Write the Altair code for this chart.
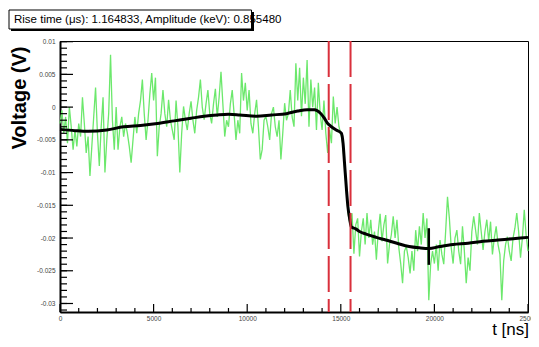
import altair as alt
import pandas as pd
import numpy as np

# ---------------- data ----------------
title_text = ["Rise time (\u03bcs): 1.164833, Amplitude (keV): 0.855480"]

# green raw trace, sampled every 100 ns from 0 to 25000 ns, values in mV
green_t = list(range(0, 25001, 100))
green_mV = [
    -2.5, -0.5, -4.0, -1.5, -5.5, 0.0, -3.0, -6.5, -3.5, -6.0,
    -2.5, -4.5, 1.5, -2.5, -7.0, -4.5, -10.5, -6.0, -1.5, 3.0,
    -4.0, -9.0, -3.0, 1.5, -10.0, -5.0, -1.0, 8.0, -2.0, -6.5,
    0.0, -6.5, -3.0, -1.5, -4.5, -2.5, -4.0, -6.0, -8.5, -5.0,
    -1.5, -4.0, -1.0, 1.0, 4.2, -1.0, -5.0, -2.0, 2.0, 5.2,
    1.0, 4.5, -7.5, -3.0, -1.0, 2.6, -1.0, -3.0, 1.1, -2.0,
    -3.5, -5.0, 1.0, -3.0, -10.0, -4.0, 0.1, -2.0, -3.5, -1.0,
    0.9, -2.0, -4.0, -0.5, 1.5, 4.2, 0.0, -1.9, 0.5, 2.6,
    -1.0, -2.5, 0.5, 2.8, -1.5, 1.5, 5.4, 0.5, -4.5, -2.0,
    -3.0, 0.5, 2.6, -1.0, -5.0, -2.0, -4.0, 5.2, 1.0, 3.7,
    -0.5, 2.6, -2.5, -4.0, -1.0, 1.1, -3.0, -8.0, -6.5, -2.0,
    -1.4, -3.0, -5.0, -1.0, 0.0, -3.0, -4.5, -2.0, -8.0, -4.0,
    0.6, -2.0, -1.0, 2.6, -1.5, -3.0, 6.7, 1.0, 6.0, -1.4,
    4.5, 0.5, 7.2, -3.0, 4.2, 0.0, 3.0, -3.5, 3.7, -1.0,
    -3.5, 1.0, -4.0, -7.0, -3.5, -5.5, 1.6, -2.5, 0.0, -3.0,
    -4.0, -5.5, -9.0, -13.0, -16.5, -18.0, -16.2, -22.4, -18.0, -17.0,
    -22.8, -19.0, -17.0, -21.0, -16.2, -20.0, -17.2, -21.0, -19.0, -23.3,
    -19.0, -16.3, -20.5, -18.0, -16.5, -23.9, -21.0, -19.5, -16.7, -20.0,
    -17.2, -21.5, -23.9, -26.9, -22.0, -21.3, -23.0, -25.4, -22.0, -25.0,
    -18.8, -22.0, -18.2, -21.0, -16.2, -20.0, -17.0, -29.5, -24.0, -22.0,
    -23.9, -21.0, -25.0, -20.3, -22.5, -24.0, -19.0, -13.7, -17.0, -21.5,
    -23.9, -20.0, -18.8, -22.0, -24.0, -18.2, -22.0, -26.9, -23.0, -25.0,
    -19.0, -16.7, -18.8, -21.0, -16.2, -19.0, -21.8, -19.0, -17.2, -20.5,
    -17.5, -22.5, -20.0, -18.2, -21.0, -22.5, -29.5, -23.5, -21.0, -19.8,
    -22.0, -23.5, -20.0, -18.5, -16.2, -19.0, -23.0, -20.0, -15.7, -19.5,
    -22.0,
]

# black smoothed trace (knots), mV
black_t = [0, 800, 1500, 2500, 3400, 4300, 5200, 6100, 7000, 7700, 8400, 9000,
           9600, 10500, 11300, 12100, 12700, 13200, 13600, 13900, 14100, 14300,
           14500, 14750, 15030, 15120, 15200, 15300, 15380, 15470, 15560, 15800,
           16000, 16350, 16900, 17400, 18000, 18650, 19200, 19700, 20300, 21000,
           21800, 22600, 23400, 24200, 25000]
black_mV = [-3.4, -3.6, -3.7, -3.5, -3.0, -2.8, -2.5, -2.1, -1.7, -1.4, -1.2, -1.1,
            -1.2, -1.4, -1.2, -1.0, -0.6, -0.4, -0.4, -0.9, -1.6, -2.5,
            -3.0, -3.5, -4.0, -5.5, -8.6, -12.5, -15.2, -17.0, -18.3, -18.6,
            -19.0, -19.4, -19.9, -20.3, -20.8, -21.3, -21.5, -21.6, -21.3, -21.0,
            -20.8, -20.5, -20.3, -20.1, -19.9]

# spike on black trace
spike_t = [19700]
spike_lo_mV = [-24.1]
spike_hi_mV = [-18.5]

# rise-time markers (ns)
marker_t = [14355, 15520]

# axis ticks
x_major = [0, 5000, 10000, 15000, 20000, 25000]
x_minor = [v for v in range(0, 25001, 1000) if v % 5000 != 0]
y_major = [0.01, 0.005, 0.0, -0.005, -0.01, -0.015, -0.02, -0.025, -0.03]
y_minor = [round(-0.031 + 0.001 * i, 3) for i in range(42)]

# ---------------- chart ----------------
PL = 52            # left padding -> plot left edge at 8 + PL
W, H = 468, 271
OX = 62 - (8 + PL)  # offset to keep decorations at their page positions

xs = alt.Scale(domain=[0, 25000], nice=False, zero=False)
ys = alt.Scale(domain=[-0.0313, 0.0101], nice=False, zero=False)

LBL_FONT = "Liberation Sans Narrow, Liberation Sans, Arial"
xaxis = alt.Axis(
    values=x_major, format="d", title=None, ticks=False, grid=False,
    domainColor="black", domainWidth=2, labelFontSize=6.5, labelColor="#444",
    labelPadding=3, labelFont=LBL_FONT, labelOverlap=False, labelFlush=False)
yaxis = alt.Axis(
    values=y_major, title=None, ticks=False, grid=False,
    domainColor="black", domainWidth=2, labelFontSize=6.5, labelColor="#444",
    labelPadding=5, labelFont=LBL_FONT,
    labelExpr="replace(format(datum.value, '.3~f'), '\u2212', '-')",
    labelOverlap=False, labelFlush=False)

df_green = pd.DataFrame({"t": green_t, "v": np.array(green_mV) * 1e-3})
df_black = pd.DataFrame({"t": black_t, "v": np.array(black_mV) * 1e-3})
df_spike = pd.DataFrame({"t": spike_t, "v": np.array(spike_lo_mV) * 1e-3,
                         "hi": np.array(spike_hi_mV) * 1e-3})
df_mark = pd.DataFrame({"t": marker_t})
df_xmaj = pd.DataFrame({"t": x_major})
df_xmin = pd.DataFrame({"t": x_minor})
df_ymaj = pd.DataFrame({"v": y_major})
df_ymin = pd.DataFrame({"v": y_minor})
df_title = pd.DataFrame({"s": title_text})
dummy = pd.DataFrame({"a": [0]})

X = alt.X("t:Q", scale=xs, axis=xaxis)
Y = alt.Y("v:Q", scale=ys, axis=yaxis)

green = alt.Chart(df_green).mark_line(color="#6ce86c", strokeWidth=1.3).encode(x=X, y=Y)

black = alt.Chart(df_black).mark_line(color="black", strokeWidth=3,
                                       interpolate="monotone").encode(x=X, y=Y)

spike = alt.Chart(df_spike).mark_rule(color="black", strokeWidth=2.5).encode(
    x=X, y=Y, y2="hi:Q")

markers = alt.Chart(df_mark).mark_rule(color="#d9303c", strokeWidth=2,
                                        strokeDash=[36, 7]).encode(x=X)

ymaj = alt.Chart(df_ymaj).mark_rule(color="black", strokeWidth=1.2).encode(
    y=Y, x=alt.value(0), x2=alt.value(13))
ymin = alt.Chart(df_ymin).mark_rule(color="black", strokeWidth=1.2).encode(
    y=Y, x=alt.value(0), x2=alt.value(7))
xmaj = alt.Chart(df_xmaj).mark_rule(color="black", strokeWidth=1.2).encode(
    x=X, y=alt.value(H), y2=alt.value(H - 8))
xmin = alt.Chart(df_xmin).mark_rule(color="black", strokeWidth=1.2).encode(
    x=X, y=alt.value(H), y2=alt.value(H - 4))

shadow = alt.Chart(dummy).mark_rect(color="black").encode(
    x=alt.value(-51 + OX), x2=alt.value(192 + OX), y=alt.value(-29), y2=alt.value(-10))
box = alt.Chart(dummy).mark_rect(fill="white", stroke="black", strokeWidth=1).encode(
    x=alt.value(-53 + OX), x2=alt.value(189.5 + OX), y=alt.value(-31), y2=alt.value(-12))
title = alt.Chart(df_title).mark_text(
    align="left", baseline="middle", fontSize=11.5, color="black",
    font=LBL_FONT).encode(text="s:N", x=alt.value(-48 + OX), y=alt.value(-21))

ytitle = alt.Chart(dummy).mark_text(
    angle=270, align="center", baseline="middle", fontSize=20, fontWeight="bold",
    font="Liberation Sans, Arial", color="black").encode(
    text=alt.value("Voltage (V)"), x=alt.value(-42 + OX), y=alt.value(57))
xtitle = alt.Chart(dummy).mark_text(
    align="right", baseline="alphabetic", fontSize=17,
    font=LBL_FONT, color="black").encode(
    text=alt.value("t [ns]"), x=alt.value(W + 1), y=alt.value(294))

chart = alt.layer(
    green, black, spike, markers, ymaj, ymin, xmaj, xmin,
    shadow, box, title, ytitle, xtitle
).properties(
    width=W, height=H,
    autosize=alt.AutoSizeParams(type="none"),
    padding={"left": PL, "top": 33, "right": 3, "bottom": 27},
    background="white",
).configure_view(stroke="black", strokeWidth=1)

chart.save("out.html", embed_options={"renderer": "svg", "actions": False})
